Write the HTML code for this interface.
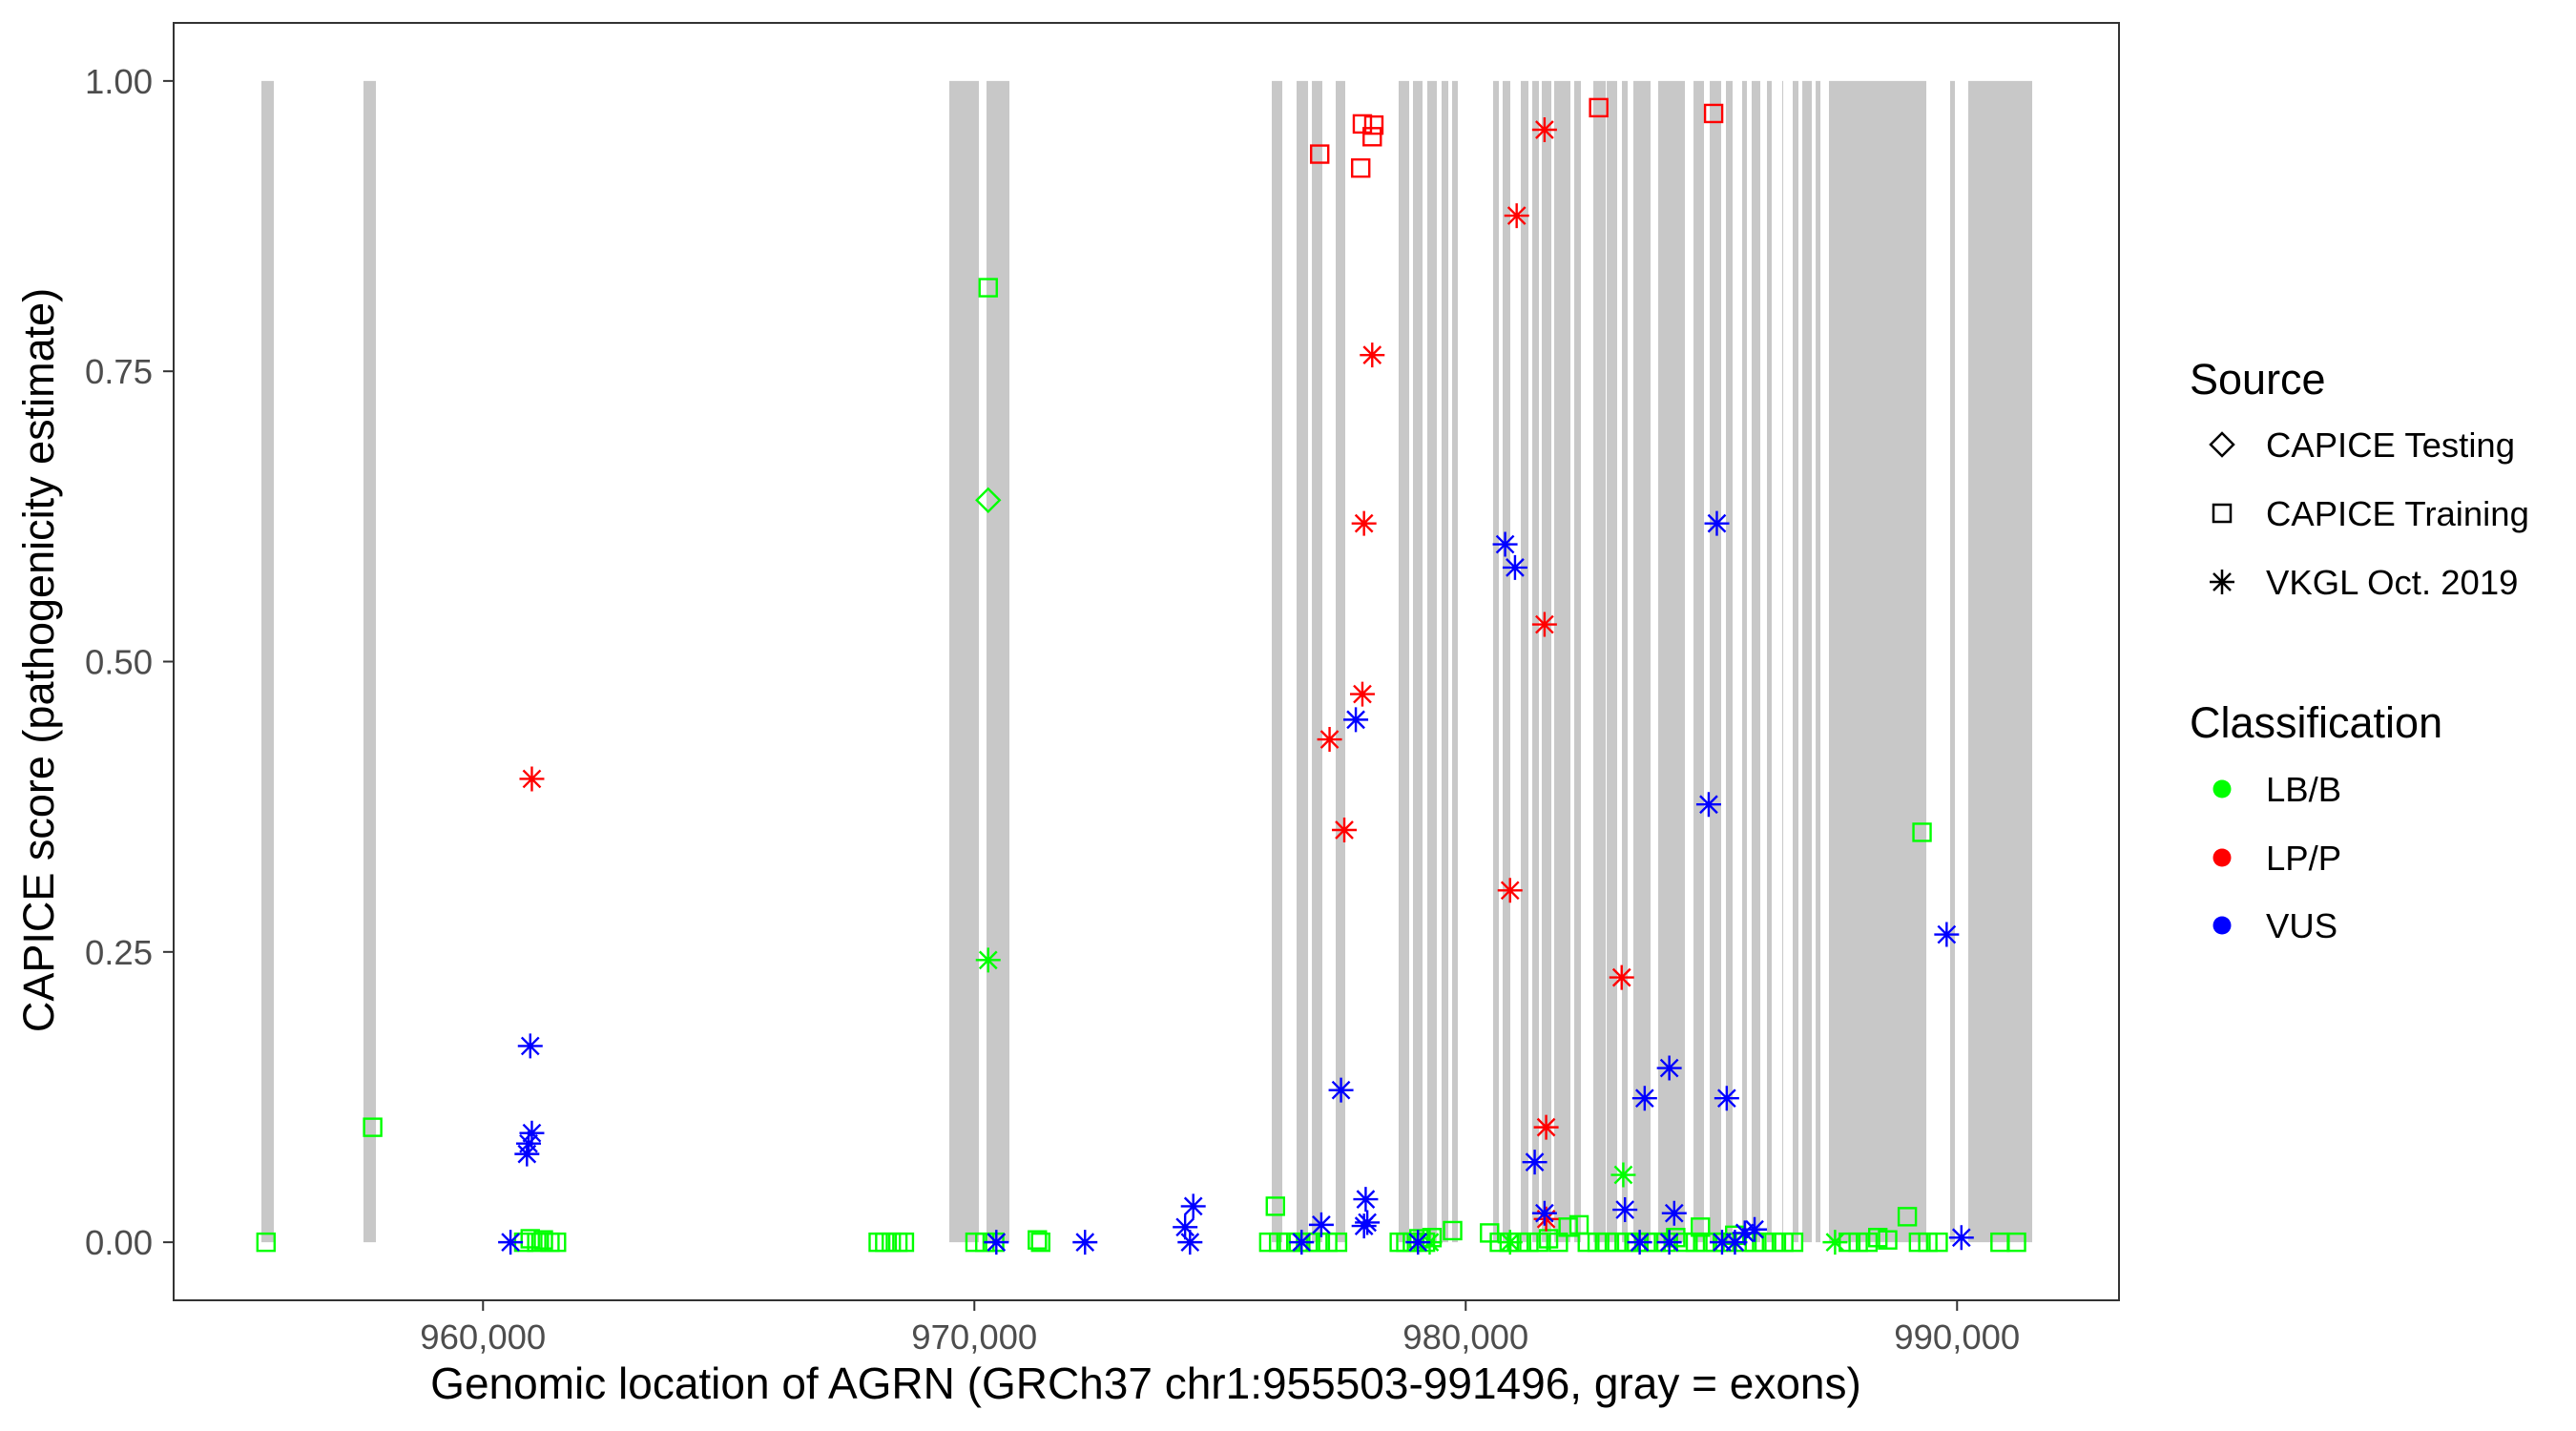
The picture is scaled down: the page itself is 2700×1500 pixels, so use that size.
<!DOCTYPE html>
<html><head><meta charset="utf-8"><style>
html,body{margin:0;padding:0;background:#fff;}
svg{display:block;font-family:"Liberation Sans",Arial,sans-serif;}
</style></head><body>
<svg id="chart" width="2700" height="1500" viewBox="0 0 2700 1500">
<g id="bands"></g>
<g id="points"></g>
<rect x="182" y="24" width="2039" height="1339" fill="none" stroke="#333" stroke-width="2"/>
<g id="axes"></g>
<text x="1201" y="1466" font-size="46" text-anchor="middle" fill="#000">Genomic location of AGRN (GRCh37 chr1:955503-991496, gray = exons)</text>
<text transform="translate(56,692) rotate(-90)" font-size="45" text-anchor="middle" fill="#000">CAPICE score (pathogenicity estimate)</text>
<g>
<text x="2295" y="413" font-size="45">Source</text>
<g><path d="M2329 454 L2341 466 L2329 478 L2317 466 Z" fill="none" stroke="#000" stroke-width="2.5"/><text x="2375" y="479" font-size="36.5">CAPICE Testing</text></g>
<g><rect x="2320" y="529" width="18" height="18" fill="none" stroke="#000" stroke-width="2.5"/><text x="2375" y="551" font-size="36.5">CAPICE Training</text></g>
<g><path d="M2316 610 H2342 M2329 597 V623 M2320 601 L2338 619 M2338 601 L2320 619" stroke="#000" stroke-width="2.5"/><text x="2375" y="623" font-size="36.5">VKGL Oct. 2019</text></g>
<text x="2295" y="773" font-size="45">Classification</text>
<g><circle cx="2329" cy="827" r="9.5" fill="#00ff00"/><text x="2375" y="840" font-size="36.5">LB/B</text></g>
<g><circle cx="2329" cy="899" r="9.5" fill="#ff0000"/><text x="2375" y="912" font-size="36.5">LP/P</text></g>
<g><circle cx="2329" cy="970" r="9.5" fill="#0000ff"/><text x="2375" y="983" font-size="36.5">VUS</text></g>
</g>
</svg>
<script>
const exonStarts=[955490,957567,969490,970247,976053,976558,976869,977354,978635,978927,979218,979509,979723,980558,980752,981121,981354,981548,981800,982208,982597,982869,983179,983412,983917,984636,984966,985296,985626,985820,986131,986442,986655,986850,987122,987393,989859,990228];
const exonEnds=[955742,957820,970092,970713,976267,976791,977082,977548,978849,979121,979412,979645,979839,980674,980907,981276,981490,981742,982131,982344,982849,983082,983296,983762,984461,984849,985199,985432,985723,985995,986228,986462,986772,987044,987219,989374,989956,991529];
const xTicks=[960000,970000,980000,990000];
const xTickLabels=["960,000","970,000","980,000","990,000"];
const yTicks=[0,0.25,0.5,0.75,1];
const yTickLabels=["0.00","0.25","0.50","0.75","1.00"];
// Training (squares)
const trainPos=[955583,957754,960828,960961,961094,961228,961362,961495,970281,970013,970213,970413,968043,968176,968309,968443,968576,971282,971349,976126,975992,976192,976392,976592,976792,976992,977191,977391,978648,978781,978915,979048,979181,979314,979733,980485,980685,980885,981085,981285,981485,981685,981885,982085,982306,982475,982675,982875,983075,983275,983475,983675,983874,984074,984274,984474,984777,984674,984874,985074,985274,985474,985674,985874,986074,986274,986473,986673,987787,987987,988187,988387,988987,989287,988587,989215,989405,989615,990875,991209,977028,977897,978130,978097,977863,982706,985045];
const trainScore=[0,0.099,0,0.003,0,0.002,0,0,0.822,0,0,0,0,0,0,0,0,0.002,0,0.031,0,0,0,0,0,0,0,0,0,0,0,0.003,0,0.004,0.01,0.008,0,0,0,0,0,0.003,0,0.013,0.015,0,0,0,0,0,0,0,0,0,0.004,0,0.013,0,0,0,0,0.006,0,0,0,0,0,0,0,0,0,0.004,0.022,0.353,0.002,0,0,0,0,0,0.937,0.963,0.962,0.952,0.925,0.977,0.972];
const trainClass=["B","B","B","B","B","B","B","B","B","B","B","B","B","B","B","B","B","B","B","B","B","B","B","B","B","B","B","B","B","B","B","B","B","B","B","B","B","B","B","B","B","B","B","B","B","B","B","B","B","B","B","B","B","B","B","B","B","B","B","B","B","B","B","B","B","B","B","B","B","B","B","B","B","B","B","B","B","B","B","B","P","P","P","P","P","P","P"];
// Testing (diamonds)
const testPos=[970281];
const testScore=[0.639];
const testClass=["B"];
// VKGL (asterisks)
const vkglPos=[970281,983207,979266,980902,987517,960994,978097,977930,977897,977229,977529,981037,981604,981604,980902,983174,981637,981637,960961,960994,960927,960894,960560,970447,972252,974289,974455,974389,976660,977061,977462,977763,977964,977930,977997,980802,981003,981404,981604,983241,983642,984143,984243,984945,985111,985312,983541,984143,985479,985679,985879,989788,990088,979029,985217];
const vkglScore=[0.243,0.058,0,0,0,0.399,0.764,0.619,0.472,0.433,0.355,0.884,0.958,0.532,0.303,0.228,0.099,0.02,0.169,0.094,0.085,0.076,0,0,0,0.013,0.031,0,0,0.015,0.131,0.45,0.037,0.014,0.017,0.601,0.581,0.069,0.025,0.028,0.124,0.15,0.025,0.377,0.619,0.124,0,0,0,0.008,0.011,0.265,0.004,0,0];
const vkglClass=["B","B","B","B","B","P","P","P","P","P","P","P","P","P","P","P","P","P","V","V","V","V","V","V","V","V","V","V","V","V","V","V","V","V","V","V","V","V","V","V","V","V","V","V","V","V","V","V","V","V","V","V","V","V","V"];

const NS="http://www.w3.org/2000/svg";
const X0=953703.35,X1=993295.65,PL=182,PR=2221;
const Y0=-0.05,Y1=1.05,PB=1363,PT=24;
function xs(v){return PL+(v-X0)/(X1-X0)*(PR-PL);}
function ys(v){return PB-(v-Y0)/(Y1-Y0)*(PB-PT);}
const colors={B:"#00ff00",P:"#ff0000",V:"#0000ff"};
function mk(tag,attrs,parent){const e=document.createElementNS(NS,tag);for(const k in attrs)e.setAttribute(k,attrs[k]);parent.appendChild(e);return e;}

const bandsG=document.getElementById('bands');
for(let i=0;i<exonStarts.length;i++){
  const r=mk('rect',{x:xs(exonStarts[i]),y:ys(1),width:Math.max(1,xs(exonEnds[i])-xs(exonStarts[i])),height:ys(0)-ys(1),fill:'#c8c8c8'},bandsG);
  
  
}
const axG=document.getElementById('axes');
for(let i=0;i<xTicks.length;i++){
  const x=xs(xTicks[i]);
  const t=mk('line',{x1:x,x2:x,y1:PB,y2:PB+11,stroke:'#333','stroke-width':2},axG);
  
  
  const l=mk('text',{x:x,y:1414,'font-size':36.5,'text-anchor':'middle',fill:'#4d4d4d'},axG);
  l.textContent=xTickLabels[i];
  
  
}
for(let i=0;i<yTicks.length;i++){
  const y=ys(yTicks[i]);
  const t=mk('line',{x1:PL-11,x2:PL,y1:y,y2:y,stroke:'#333','stroke-width':2},axG);
  
  
  const l=mk('text',{x:160,y:y+13,'font-size':36.5,'text-anchor':'end',fill:'#4d4d4d'},axG);
  l.textContent=yTickLabels[i];
  
  
}
const ptG=document.getElementById('points');
for(let i=0;i<trainPos.length;i++){
  const x=xs(trainPos[i]),y=ys(trainScore[i]);
  const r=mk('rect',{x:x-9,y:y-9,width:18,height:18,fill:'none',stroke:colors[trainClass[i]],'stroke-width':2.4},ptG);
  
  
}
for(let i=0;i<testPos.length;i++){
  const x=xs(testPos[i]),y=ys(testScore[i]);
  const p=mk('path',{d:`M${x} ${y-12} L${x+12} ${y} L${x} ${y+12} L${x-12} ${y} Z`,fill:'none',stroke:colors[testClass[i]],'stroke-width':2.4},ptG);
  
  
}
for(let i=0;i<vkglPos.length;i++){
  const x=xs(vkglPos[i]),y=ys(vkglScore[i]);
  const p=mk('path',{d:`M${x-13} ${y} H${x+13} M${x} ${y-13} V${y+13} M${x-9} ${y-9} L${x+9} ${y+9} M${x+9} ${y-9} L${x-9} ${y+9}`,stroke:colors[vkglClass[i]],'stroke-width':2.4},ptG);
  
  
}
</script>
</body></html>
